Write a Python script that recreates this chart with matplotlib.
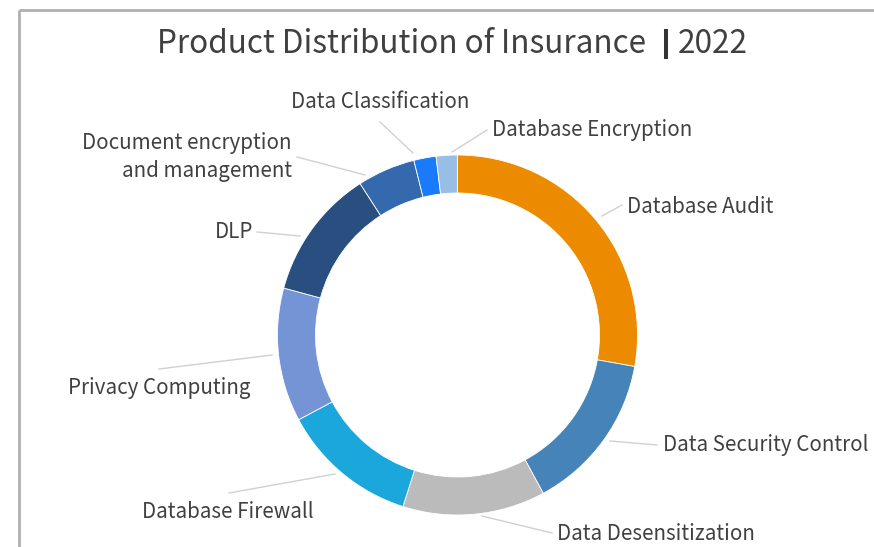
import matplotlib
matplotlib.use("Agg")
import matplotlib.pyplot as plt
import numpy as np

categories = ["Database Audit", "Data Security Control", "Data Desensitization",
              "Database Firewall", "Privacy Computing", "DLP",
              "Document encryption\nand management", "Data Classification",
              "Database Encryption"]
values = [27.8, 14.3, 12.8, 12.3, 12.0, 11.7, 5.2, 2.0, 1.9]
colors = ["#ED8B00", "#4583B8", "#BBBBBB", "#1BA7DB", "#7594D6",
          "#284F80", "#3469AE", "#1A7BFA", "#99BEE6"]
title_main = "Product Distribution of Insurance"
title_year = "2022"

# layout (pixel coords of the reference, y measured from the top)
W, H = 874, 547
cx, cy, R = 457.5, 335, 180
label_pos = [(627, 207), (663, 445), (557, 534), (142, 512), (68, 388),
             (215, 232), (292, 157), (291, 102), (492, 130)]
label_ha = ["left", "left", "left", "left", "left", "left", "right", "left", "left"]
leader = [((602, 216), (622, 205)), ((610, 441), (657, 445)), ((482, 516), (552, 533)),
          ((229, 493), (335, 474)), ((159, 369), (272, 355)), ((257, 232), (300, 236)),
          ((297, 157), (365, 175)), ((380, 122), (413, 153)), ((452, 152), (487, 130))]

plt.rcParams['font.family'] = ['Noto Sans CJK SC', 'DejaVu Sans']
fig = plt.figure(figsize=(W / 100, H / 100), dpi=100)
ax = fig.add_axes([0, 0, 1, 1])

wedges, _ = ax.pie(values, colors=colors, startangle=90, counterclock=False,
                   radius=R, center=(cx, H - cy),
                   wedgeprops=dict(width=38, linewidth=0.6, edgecolor="white"))
ax.set_xlim(0, W)
ax.set_ylim(0, H)
ax.set_aspect("equal")
ax.axis("off")

for lab, (lx, ly), ha, ((x0, y0), (x1, y1)) in zip(categories, label_pos, label_ha, leader):
    ax.plot([x0, x1], [H - y0, H - y1], color="#D0D0D0", lw=1.0)
    ax.text(lx, H - ly, lab, ha=ha, va="center", fontsize=14.8, multialignment=ha,
            color="#404040", linespacing=1.4)

# title: main text, heavy separator bar, year
ax.text(646, H - 44, title_main, ha="right", va="center", fontsize=22.7, color="#404040")
ax.plot([666, 666], [H - 29, H - 59], color="#333333", lw=2.9, solid_capstyle="butt")
ax.text(678, H - 44, title_year, ha="left", va="center", fontsize=22.7, color="#404040")

# frame border (partially visible)
ax.plot([19, 19], [0, H - 10], color="#B0B0B0", lw=2, solid_capstyle="butt")
ax.plot([19, W], [H - 10, H - 10], color="#B0B0B0", lw=2, solid_capstyle="butt")

fig.savefig("out.png", dpi=100)
